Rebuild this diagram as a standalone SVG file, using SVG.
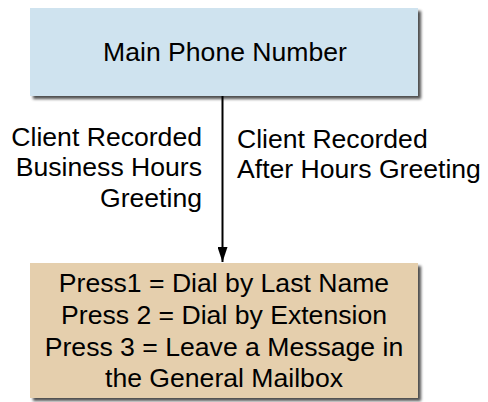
<svg xmlns="http://www.w3.org/2000/svg" width="488" height="402" viewBox="0 0 488 402">
<defs>
<style>
text{font-family:"Liberation Sans",Arial,sans-serif;font-size:26.6px;fill:#000}
.c{text-anchor:middle}
.r{text-anchor:end}
</style>
<filter id="sh" x="-10%" y="-10%" width="120%" height="130%">
<feGaussianBlur in="SourceAlpha" stdDeviation="1.6"/>
<feOffset dx="3" dy="3" result="b"/>
<feComponentTransfer><feFuncA type="linear" slope="0.7"/></feComponentTransfer>
<feMerge><feMergeNode/><feMergeNode in="SourceGraphic"/></feMerge>
</filter>
<marker id="ah" viewBox="0 0 15 10" refX="15" refY="5" markerWidth="15" markerHeight="10" markerUnits="userSpaceOnUse" orient="auto">
<path d="M0,0 L15,5 L0,10 Z" fill="#000"/>
</marker>
</defs>
<rect width="488" height="402" fill="#fff"/>
<g id="connectors">
<line x1="222.5" y1="96" x2="222.5" y2="262" stroke="#000" stroke-width="2" marker-end="url(#ah)"/>
<g id="label-business">
<text class="r" x="202" y="146">Client Recorded</text>
<text class="r" x="202" y="176">Business Hours</text>
<text class="r" x="202" y="207">Greeting</text>
</g>
<g id="label-after">
<text x="237" y="148">Client Recorded</text>
<text x="237" y="178">After Hours Greeting</text>
</g>
</g>
<g id="node-main">
<rect x="30" y="8" width="388" height="88" fill="#cfe3ef" filter="url(#sh)"/>
<text class="c" x="225" y="61">Main Phone Number</text>
</g>
<g id="node-menu">
<rect x="30" y="263" width="388" height="135" fill="#e5cfad" filter="url(#sh)"/>
<text class="c" x="224" y="292">Press1 = Dial by Last Name</text>
<text class="c" x="224" y="324">Press 2 = Dial by Extension</text>
<text class="c" x="224" y="356">Press 3 = Leave a Message in</text>
<text class="c" x="224" y="387">the General Mailbox</text>
</g>
</svg>
